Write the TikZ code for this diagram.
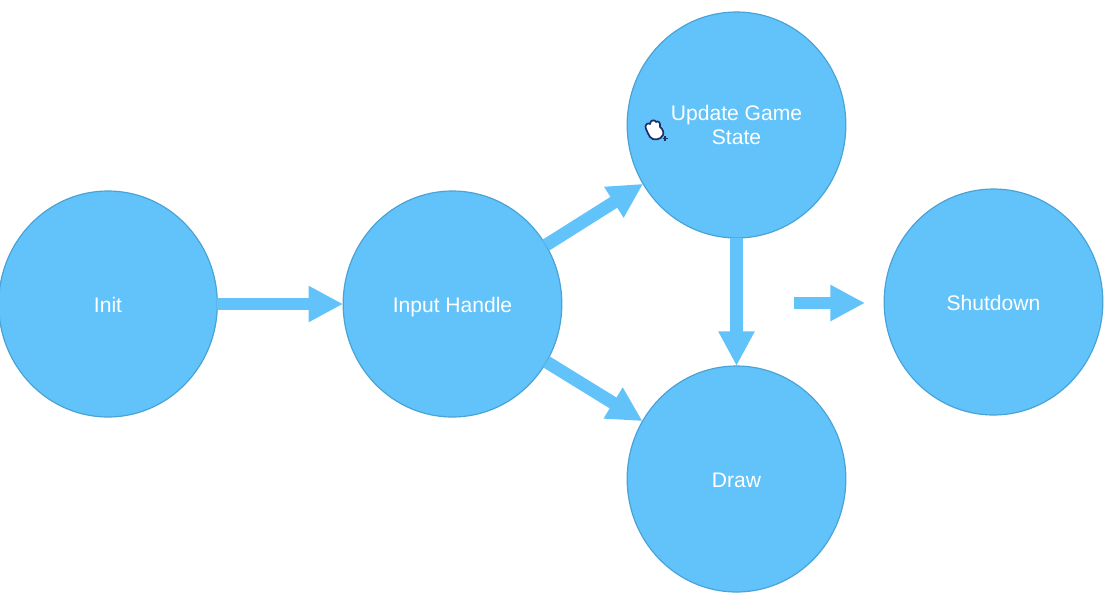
\documentclass[tikz,border=0pt]{standalone}
\usepackage{fontspec}
\setmainfont{Liberation Sans}
\usetikzlibrary{arrows.meta,shapes.geometric}
\definecolor{fillblue}{HTML}{62C3FA}
\definecolor{edgeblue}{HTML}{4AA3D6}
\definecolor{cursorink}{HTML}{1F2F6B}
\tikzset{
  statenode/.style={ellipse,draw=edgeblue,line width=0.9pt,fill=fillblue,minimum width=164pt,minimum height=169.5pt,inner sep=0pt,outer sep=0pt,text=white,align=center,font=\fontsize{15.8}{18}\selectfont},
  oneline/.style={text height=12.5pt,text depth=0pt},
  flowarrow/.style={draw=fillblue,line width=9.6pt,-{Triangle[length=26pt,width=25.5pt]}}
}
\begin{document}
\begin{tikzpicture}[x=0.75pt,y=-0.75pt]
\useasboundingbox (0,0) rectangle (1114,600);
\node[statenode,oneline] (init) at (108,304) {Init};
\node[statenode,oneline] (input) at (452.5,304) {Input Handle};
\node[statenode] (update) at (736.5,125) {Update Game\\State};
\node[statenode,oneline] (drawnode) at (736.5,479) {Draw};
\node[statenode,oneline] (shutdown) at (993.5,302) {Shutdown};
\coordinate (freestart) at (794,303);
\coordinate (freeend) at (865,303);
\draw[flowarrow] (init) -- (input);
\draw[flowarrow] (input) -- (update);
\draw[flowarrow] (input) -- (drawnode);
\draw[flowarrow] (update) -- (drawnode);
\draw[flowarrow] (freestart) -- (freeend);
% hand cursor
\draw[cursorink,fill=white,line width=1.3pt,line join=round]
  (646,129) .. controls (644,125) and (648,122) .. (650,124)
  .. controls (650,120) and (655,119) .. (656,122)
  .. controls (658,120) and (661,123) .. (660,127)
  .. controls (663,129) and (664,133) .. (663,135)
  .. controls (661,140) and (653,141) .. (650,137)
  .. controls (649,135) and (647,132) .. (646,129) -- cycle;
\draw[cursorink,line width=0.8pt] (662.5,138.5) -- (667.5,138.5) (665,136) -- (665,141);
\end{tikzpicture}
\end{document}
